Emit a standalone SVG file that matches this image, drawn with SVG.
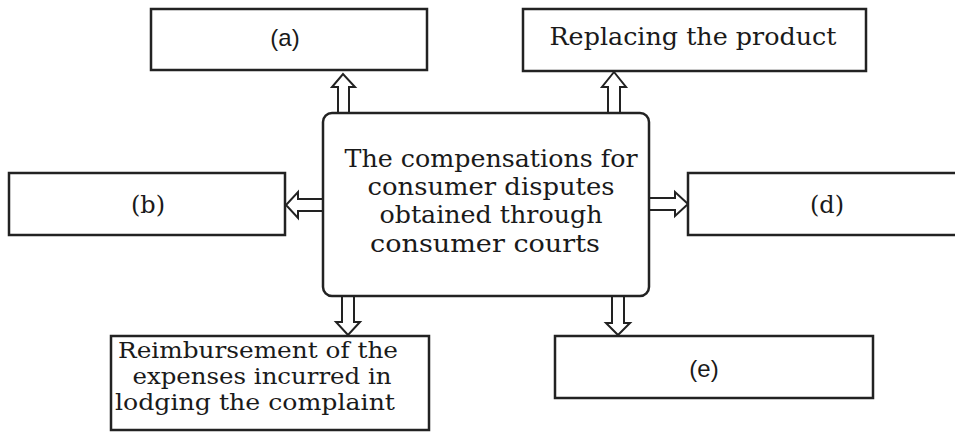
<svg xmlns="http://www.w3.org/2000/svg" width="955" height="432" viewBox="0 0 955 432">
<style>
.box{fill:#fff;stroke:#222;stroke-width:2.5}
.arr{fill:#fff;stroke:#222;stroke-width:2;stroke-linejoin:miter}
.serif{font-family:"DejaVu Serif","Liberation Serif",serif;fill:#1a1a1a;text-anchor:middle;font-size:24px}
.small{font-size:22px}
.sans{font-family:"Liberation Sans",Arial,sans-serif;fill:#1a1a1a;text-anchor:middle;font-size:24px}
</style>
<rect width="955" height="432" fill="#fff"/>
<g id="connectors">
<polygon class="arr" points="338,113 338,87 332,87 343,74 355,87 349,87 349,113"/>
<polygon class="arr" points="608,113 608,87 602,87 614,72 626,87 620,87 620,113"/>
<polygon class="arr" points="323,199 298,199 298,192 286,205 298,218 298,211 323,211"/>
<polygon class="arr" points="649,198 675,198 675,192 688,204 675,216 675,210 649,210"/>
<polygon class="arr" points="342,296 342,322 336,322 348,335 360,322 354,322 354,296"/>
<polygon class="arr" points="612,296 612,323 606,323 618,335 630,323 624,323 624,296"/>
</g>
<g id="center">
<rect class="box" x="323" y="113" width="326" height="183" rx="9"/>
<text class="serif" x="491" y="167" textLength="293" lengthAdjust="spacingAndGlyphs">The compensations for</text>
<text class="serif" x="491" y="195" textLength="247" lengthAdjust="spacingAndGlyphs">consumer disputes</text>
<text class="serif" x="491" y="223" textLength="223" lengthAdjust="spacingAndGlyphs">obtained through</text>
<text class="serif" x="485" y="252" textLength="230" lengthAdjust="spacingAndGlyphs">consumer courts</text>
</g>
<g id="a">
<rect class="box" x="151" y="9" width="276" height="61"/>
<text class="sans" x="285" y="46">(a)</text>
</g>
<g id="replacing">
<rect class="box" x="523" y="9" width="343" height="62"/>
<text class="serif" x="693" y="45" textLength="287" lengthAdjust="spacingAndGlyphs">Replacing the product</text>
</g>
<g id="b">
<rect class="box" x="9" y="173" width="276" height="62"/>
<text class="serif" x="148" y="213">(b)</text>
</g>
<g id="d">
<rect class="box" x="688" y="173" width="280" height="62"/>
<text class="serif" x="827" y="213">(d)</text>
</g>
<g id="reimbursement">
<rect class="box" x="111" y="336" width="318" height="94"/>
<text class="serif small" x="258" y="358" textLength="280" lengthAdjust="spacingAndGlyphs">Reimbursement of the</text>
<text class="serif small" x="262" y="384" textLength="259" lengthAdjust="spacingAndGlyphs">expenses incurred in</text>
<text class="serif small" x="255" y="410" textLength="280" lengthAdjust="spacingAndGlyphs">lodging the complaint</text>
</g>
<g id="e">
<rect class="box" x="555" y="336" width="318" height="62"/>
<text class="sans" x="704" y="377">(e)</text>
</g>
</svg>
